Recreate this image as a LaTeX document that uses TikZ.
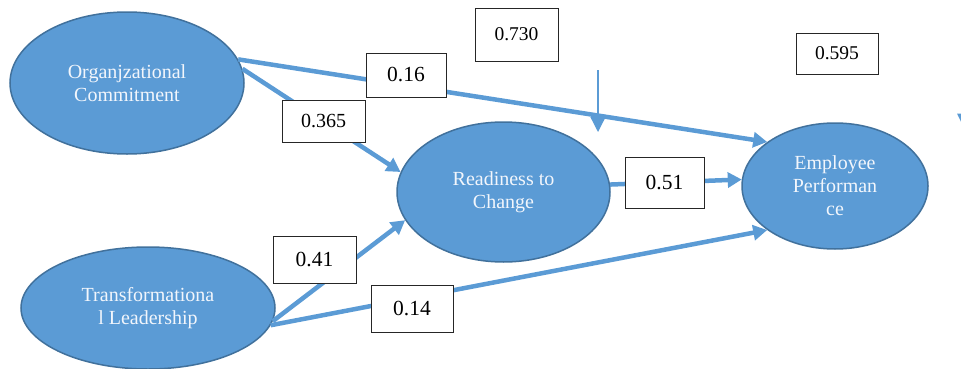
\documentclass[tikz,border=0pt]{standalone}
\usepackage{fontspec}
\setmainfont{Liberation Serif}
\usetikzlibrary{arrows.meta,shapes.geometric}
\definecolor{fillblue}{HTML}{5B9BD5}
\definecolor{edgeblue}{HTML}{41719C}
\definecolor{txtlight}{HTML}{F2F6FC}
\begin{document}
\begin{tikzpicture}[x=1pt,y=1pt,
  latent/.style={ellipse, draw=edgeblue, line width=1.5pt, fill=fillblue, text=txtlight,
    font=\fontsize{20}{23}\selectfont, align=center, inner sep=0pt},
  coefbox/.style={draw=black!85, line width=0.9pt, fill=white, text=black,
    font=\fontsize{21.5}{24}\selectfont, inner sep=0pt},
  rsqbox/.style={coefbox, font=\fontsize{19.5}{22}\selectfont},
  pathline/.style={draw=fillblue, line width=4.5pt, -{Triangle[length=14pt,width=15pt]}},
  thinline/.style={draw=fillblue, line width=1.3pt, -{Triangle[length=15pt,width=15pt]}}
]
\useasboundingbox (0,0) rectangle (961,368);
\clip (0,0) rectangle (961,368);

% latent variables
\node[latent, minimum width=234pt, minimum height=142pt] (oc) at (127,285) {Organjzational\\Commitment};
\node[latent, minimum width=254pt, minimum height=122pt] (tl) at (148,60) {Transformationa\\l Leadership};
\node[latent, minimum width=213pt, minimum height=140pt] (rtc) at (503.5,176) {Readiness to\\Change};
\node[latent, minimum width=186pt, minimum height=126pt] (ep) at (835,182) {Employee\\Performan\\ce};

% paths
\draw[pathline] (oc.12.7) -- (ep.147.3);
\draw[pathline] (oc.7.6) -- (rtc.169.6);
\draw[pathline] (tl.-6.3) -- (rtc.196.6);
\draw[pathline] (tl.-8.5) -- (ep.213.9);
\draw[pathline] (rtc.4.8) -- (ep.176.3);

% thin arrow
\coordinate (rtop) at (598,298);
\coordinate (rtip) at (598,236);
\draw[thinline] (rtop) -- (rtip);

% partial mark at right edge
\fill[fillblue] (957,254.5) -- (971,254.5) -- (964,240) -- cycle;

% coefficient boxes
\node[rsqbox, minimum width=83pt, minimum height=53pt] (b730) at (516.5,333.5) {0.730};
\node[rsqbox, minimum width=82pt, minimum height=41pt] (b595) at (837,314.5) {0.595};
\node[coefbox, minimum width=80pt, minimum height=44pt] (b16) at (406,293) {0.16};
\node[rsqbox, font=\fontsize{20}{23}\selectfont, minimum width=83pt, minimum height=42pt] (b365) at (323.5,247) {0.365};
\node[coefbox, minimum width=79pt, minimum height=51pt] (b51) at (664.5,185.5) {0.51};
\node[coefbox, minimum width=83pt, minimum height=47pt] (b41) at (314.5,108.5) {0.41};
\node[coefbox, minimum width=82pt, minimum height=47pt] (b14) at (412,59.5) {0.14};
\end{tikzpicture}
\end{document}
